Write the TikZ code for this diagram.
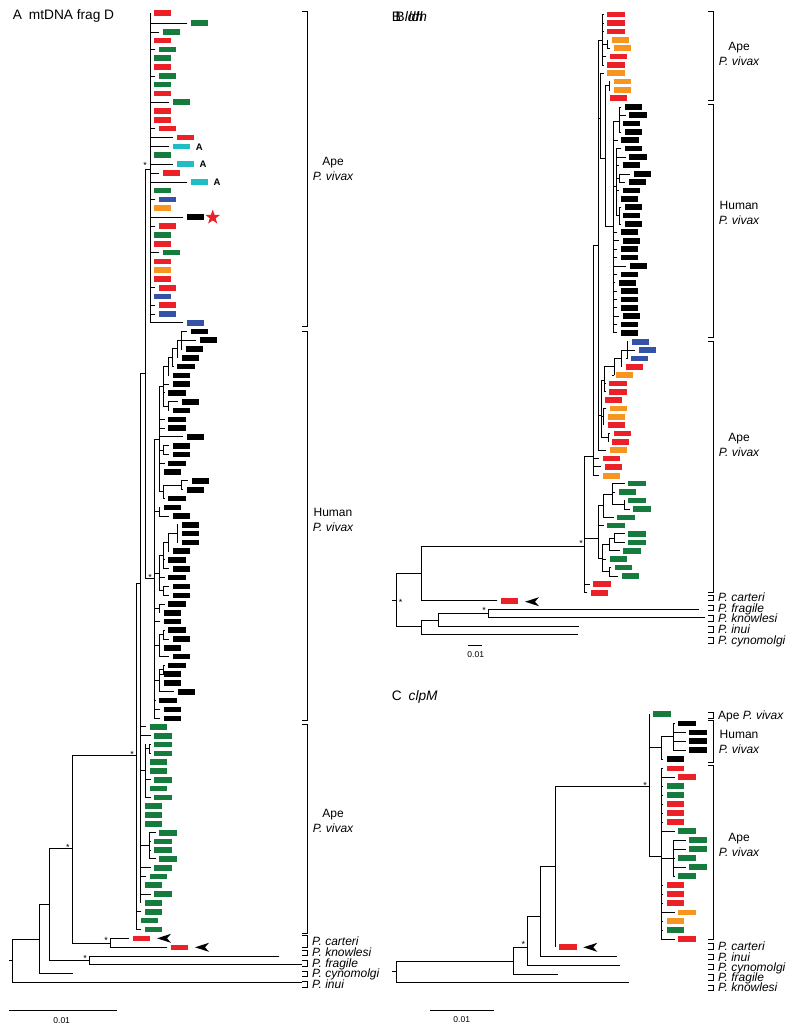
\documentclass[tikz,border=0pt]{standalone}
\usepackage{fontspec}
\setmainfont{Liberation Sans}
\usetikzlibrary{shapes.geometric}
\definecolor{cR}{RGB}{236,32,39}
\definecolor{cG}{RGB}{22,124,62}
\definecolor{cC}{RGB}{32,190,196}
\definecolor{cB}{RGB}{52,82,166}
\definecolor{cO}{RGB}{246,150,32}
\newcommand\tleaf[4]{\draw[br] (#1,#2) -- ({#3-4},#2);\fill[fill=#4] (#3,{#2-2.8}) rectangle ({#3+17.4},{#2+2.8});}
\newcommand\tvert[3]{\draw[br] (#1,#2) -- (#1,#3);}
\newcommand\thor[3]{\draw[br] (#1,#3) -- (#2,#3);}
\newcommand\tbrk[3]{\draw[br] ({#1-5},#2) -- (#1,#2) -- (#1,#3) -- ({#1-5},#3);}
\newcommand\tarr[2]{\fill (#1,#2) -- ({#1+14},{#2-4.5}) -- ({#1+10},#2) -- ({#1+14},{#2+4.5}) -- cycle;}
\begin{document}
\begin{tikzpicture}[x=1pt,y=-1pt,
 br/.style={line width=0.95pt,line cap=rect},
 ttl/.style={font=\fontsize{13.7}{16}\selectfont,anchor=base west,inner sep=0},
 grp/.style={font=\fontsize{12}{14}\selectfont,anchor=base,inner sep=0},
 sp/.style={font=\fontsize{12}{14}\selectfont\itshape,anchor=base west,inner sep=0},
 ast/.style={font=\fontsize{9}{9}\selectfont,anchor=base,inner sep=0},
 scl/.style={font=\fontsize{8.5}{9}\selectfont,anchor=base,inner sep=0},
 albl/.style={font=\fontsize{9.5}{10}\selectfont\bfseries,anchor=base west,inner sep=0}]
\fill[white] (0,0) rectangle (800,1032);
\useasboundingbox (0,0) rectangle (800,1032);

% ================= PANEL A =================
\node[ttl] (tA) at (12.7,19.9) {A\hspace{0.5em}mtDNA frag D};
% verticals
\foreach \x/\a/\b in {150/13.3/322.7,145/169/578,140.7/373/902.7,136/583/929.3,
 181.7/331.3/349,177.3/340/357.7,172.7/348.8/366.3,168.3/357.6/375.3,168.3/401.7/410.3,
 163.3/366.5/406,163.3/445.7/454.3,181.7/480.7/489.7,163.3/485.2/498.3,159.3/386/491.7,
 159.3/507.3/516,177.3/524.7/542.3,168.3/533.5/551,163.3/542/568.7,163.3/586.3/595.3,
 159.3/555/590.8,159.3/604/612.7,163.3/630.2/639,159.3/634.6/656.5,163.3/665.3/674,
 159.3/669.6/691.7,154.3/439/718.3,145.7/744.3/797.3,149.3/744.3/753.3,149.3/832.7/858.7,
 12.3/939.3/982.7,39.3/904.3/973.3,49.3/848.3/960,72.3/755.7/943.3,110/938.3/947.3,89.3/956/964.3}
 {\tvert{\x}{\a}{\b}}
% horizontals
\foreach \a/\b/\y in {145/150/169,145/154.3/578,140.7/145/373,136/140.7/583,72.3/136/755.7,
 49.3/72.3/848.3,39.3/49.3/904.3,12.3/39.3/939.3,9.3/12.3/960,12.3/301.7/982.7,39.3/72.3/973.3,
 49.3/89.3/960,72.3/110/943.3,89.3/279/956,89.3/301.7/964.3,
 177.3/181.7/340,172.7/177.3/348.8,168.3/172.7/357.6,163.3/168.3/366.5,163.3/168.3/406,
 159.3/163.3/386,159.3/163.3/450,163.3/181.7/485.2,159.3/163.3/491.7,154.3/159.3/439,
 154.3/159.3/511.6,168.3/177.3/533.5,163.3/168.3/542,159.3/163.3/555,159.3/163.3/590.8,
 154.3/159.3/573,154.3/159.3/608,159.3/163.3/634.6,154.3/159.3/645.5,159.3/163.3/669.6,
 154.3/159.3/680,140.7/145.7/770.7,145.7/149.3/748.8,140.7/149.3/845.7}
 {\thor{\a}{\b}{\y}}
% leaves (ape, top)
\foreach \p/\y/\bx/\cc in {150/13.3/154/cR,150/23.3/191/cG,150/32/163/cG,150/40.7/154/cR,
 150/49.7/159/cG,150/58.3/154/cG,150/67.3/154/cR,150/76/159/cG,150/84.7/154/cG,150/93.7/154/cR,
 150/102.3/173/cG,150/111/154/cR,150/120/154/cR,150/128.7/159/cR,150/137.7/177/cR,
 150/146.7/173/cC,150/155.3/154/cG,150/164.3/177/cC,150/173/163/cR,150/182/191/cC,
 150/190.7/154/cG,150/199.7/159/cB,150/208.3/154/cO,150/217.3/187/black,150/226/159/cR,
 150/235/154/cG,150/243.7/154/cR,150/252.3/163/cG,150/261.3/154/cR,150/270/154/cO,
 150/278.7/154/cR,150/287.7/159/cR,150/296.3/154/cB,150/305/159/cR,150/314/159/cB,
 150/322.7/187/cB}
 {\tleaf{\p}{\y}{\bx}{\cc}}
% leaves (human)
\foreach \p/\y/\bx in {181.7/331.3/190.7,181.7/340/199.7,181.7/349/186,177.3/357.7/181.7,
 172.7/366.3/177.3,168.3/375.3/172.7,163.3/384/172.7,163.3/392.7/168.3,168.3/401.7/181.7,
 168.3/410.3/172.7,159.3/419.3/168.3,159.3/428/168.3,159.3/436.7/186.7,163.3/445.7/172.7,
 163.3/454.3/172.7,159.3/463.3/168.3,159.3/472/164,181.7/480.7/191.7,181.7/489.7/186.7,
 163.3/498.3/168.3,159.3/507.3/164,159.3/516/172.7,177.3/524.7/181.7,177.3/533.3/181.7,
 177.3/542.3/181.7,168.3/551/172.7,163.3/559.7/168.3,163.3/568.7/172.7,159.3/577.3/168.3,
 163.3/586.3/172.7,163.3/595.3/172.7,159.3/604/168.3,159.3/612.7/164,154.3/621.5/164,
 163.3/630.2/168.3,163.3/639/172.7,159.3/647.7/164,159.3/656.5/172.7,163.3/665.3/168.3,
 163.3/674/164,159.3/683/164,159.3/691.7/177.5,154.3/700.5/159.3,154.3/709.3/164,154.3/718.3/164}
 {\tleaf{\p}{\y}{\bx}{black}}
% leaves (ape, lower)
\foreach \p/\y/\bx in {140.7/726.7/150,140.7/735.7/154.3,149.3/744.3/154.3,149.3/753.3/154.3,
 145.7/762/150,145.7/770.7/150,145.7/779.7/154.3,145.7/788.3/150,145.7/797.3/154.3,
 140.7/806/145,140.7/815/145,140.7/823.7/145,149.3/832.7/159.3,149.3/841.3/154.3,
 149.3/850/154.3,149.3/858.7/159.3,140.7/867.7/154.3,140.7/876.3/150,140.7/885/145,
 140.7/894/154.3,140.7/902.7/145,136/911.7/145,136/920.3/140.7,136/929.3/145}
 {\tleaf{\p}{\y}{\bx}{cG}}
\tleaf{110}{938.3}{133}{cR}
\tleaf{110}{947.3}{171}{cR}
\tarr{157}{938.3}
\tarr{195}{947.3}
\node[star,star points=5,star point ratio=2.5,fill=cR,minimum size=15.5pt,inner sep=0] (starA) at (212.7,217.3) {};
\node[albl] (a1) at (195.7,150.3) {A};
\node[albl] (a2) at (199.3,167.9) {A};
\node[albl] (a3) at (213.3,185.6) {A};
\foreach \x/\y [count=\i] in {145/163.3,150/575,132/752,68/845,106/938.3,85/956}
 {\node[ast] (astA\i) at (\x,{\y+5.2}) {*};}
% brackets A
\tbrk{307.7}{11}{326}
\tbrk{307.7}{331}{720}
\tbrk{307.7}{724}{933}
\tbrk{307.7}{935}{947}
\tbrk{307.7}{950}{955}
\tbrk{307.7}{960.5}{966}
\tbrk{307.7}{971}{976.5}
\tbrk{307.7}{981.5}{987}
\node[grp] (gA1) at (333,165.5) {Ape};
\node[grp] (gA2) at (333,180.5) {\itshape P. vivax};
\node[grp] (gA3) at (333,516) {Human};
\node[grp] (gA4) at (333,531) {\itshape P. vivax};
\node[grp] (gA5) at (333,817.5) {Ape};
\node[grp] (gA6) at (333,832.5) {\itshape P. vivax};
\node[sp] (sA1) at (312,945.3) {P. carteri};
\node[sp] (sA2) at (312,956.3) {P. knowlesi};
\node[sp] (sA3) at (312,967.3) {P. fragile};
\node[sp] (sA4) at (312,977.8) {P. cynomolgi};
\node[sp] (sA5) at (312,988.3) {P. inui};
\draw[br] (9.3,1010.7) -- (116.7,1010.7);
\node[scl] (scA) at (61.7,1023) {0.01};

% ================= PANEL B =================
\node[ttl] (tB) at (391.7,21.6) {\rlap{B \textit{ldh}}\hspace{3.8pt}B \textit{ldh}};
\foreach \x/\a/\b in {602.7/14.7/65,607/40/48.3,609/81.7/90,605/85.8/226.7,600.7/73.3/158,
 598.3/40/450,613.3/121.7/332.7,619.3/107/132,616/148.7/215.7,619.3/174/182.3,619.3/207.3/224,
 627/341.7/358.3,621/350/366.7,614/358/375,604/366/391.7,603.7/408.3/425,608/433.3/441.7,
 601/380/437.5,593.3/245/475.7,624/500.3/509,612.3/483.3/504.7,603/494/517.3,614/533.7/542.3,
 609.3/538/550.7,609.3/567.3/576,602.7/544/571.7,598.3/505/558,584/456/591.7,
 421.7/546/600.7,396/573.3/626,421.7/620/634,438.3/613.3/626,488.3/609.3/617.3}
 {\tvert{\x}{\a}{\b}}
\foreach \a/\b/\y in {602.7/607/44.2,605/609/85.8,600.7/605/158,605/613.3/226.7,598.3/602.7/40,
 598.3/600.7/118,613.3/619.3/121.7,613.3/616/186,616/619.3/178,616/619.3/215.7,621/627/350,
 614/621/358,604/614/366,601/604/380,601/603.7/416.7,601/608/437.5,598.3/601/415,
 593.3/598.3/245,584/593.3/456,612.3/624/504.7,603/612.3/494,598.3/603/505,609.3/614/538,
 602.7/609.3/544,602.7/609.3/571.7,598.3/602.7/558,584/598.3/538.3,421.7/584/546,
 396/421.7/573.3,392.7/396/600,396/421.7/626,421.7/438.3/620,421.7/577.3/634,
 438.3/488.3/613.3,438.3/578.3/626,488.3/698.3/609.3,488.3/705/617.3}
 {\thor{\a}{\b}{\y}}
\foreach \p/\y/\bx/\cc in {602.7/14.7/607.3/cR,602.7/23.3/607.3/cR,602.7/31.7/607.3/cR,
 607/40/611.7/cO,607/48.3/614/cO,602.7/56.7/610/cR,602.7/65/607.3/cR,600.7/73.3/607.3/cO,
 609/81.7/614/cO,609/90/614/cO,605/98.3/610/cR,
 627/341.7/631.7/cB,627/350/639/cB,627/358.3/630.7/cB,621/366.7/626/cR,614/375/616/cO,
 604/383.3/609.3/cR,604/391.7/609.3/cR,601/400/605/cR,603.7/408.3/610/cO,603.7/416.7/607.7/cO,
 603.7/425/607.7/cR,608/433.3/614/cR,608/441.7/612/cR,598.3/450/610/cO,593.3/458.3/602.7/cR,
 593.3/466.7/605/cR,593.3/475.7/602.7/cO,
 612.3/483.3/628.3/cG,612.3/492/619/cG,624/500.3/628.3/cG,624/509/633.3/cG,603/517.3/617.3/cG,
 598.3/525.3/607.3/cG,614/533.7/628.3/cG,614/542.3/628.3/cG,609.3/550.7/623.3/cG,
 602.7/559/610/cG,609.3/567.3/615/cG,609.3/576/621.7/cG,
 584/584/593.3/cR,584/592.7/591/cR,421.7/600.7/501/cR}
 {\tleaf{\p}{\y}{\bx}{\cc}}
\foreach \p/\y/\bx in {619.3/107/625,619.3/115.3/629.3,619.3/123.7/623,619.3/132/625,
 613.3/140.3/621.3,616/148.7/625,616/157/629.3,616/165.3/623,619.3/174/633.7,619.3/182.3/629,
 616/190.7/623,616/199/621,619.3/207.3/625,619.3/215.7/623,619.3/224/625,613.3/232.3/621,
 613.3/240.7/623,613.3/249/621,613.3/257.3/621,613.3/266/629.7,613.3/274.3/621,613.3/282.7/619,
 613.3/291/621,613.3/299.3/621,613.3/307.7/621,613.3/316/623,613.3/324.3/621,613.3/332.7/621}
 {\tleaf{\p}{\y}{\bx}{black}}
\tarr{525}{601.7}
\foreach \x/\y [count=\i] in {581/541.7,400.7/600.7,484/608.3}
 {\node[ast] (astB\i) at (\x,{\y+5.2}) {*};}
\tbrk{713.3}{11.7}{100}
\tbrk{713.3}{104}{337}
\tbrk{713.3}{341}{592}
\tbrk{713.3}{595}{600}
\tbrk{713.3}{605}{610.5}
\tbrk{713.3}{615.5}{621}
\tbrk{713.3}{626}{632}
\tbrk{713.3}{637}{643}
\node[grp] (gB1) at (739,51) {Ape};
\node[grp] (gB2) at (739,66) {\itshape P. vivax};
\node[grp] (gB3) at (739,210) {Human};
\node[grp] (gB4) at (739,225) {\itshape P. vivax};
\node[grp] (gB5) at (739,441.5) {Ape};
\node[grp] (gB6) at (739,456.5) {\itshape P. vivax};
\node[sp] (sB1) at (718,601.3) {P. carteri};
\node[sp] (sB2) at (718,612) {P. fragile};
\node[sp] (sB3) at (718,622.3) {P. knowlesi};
\node[sp] (sB4) at (718,633.3) {P. inui};
\node[sp] (sB5) at (718,644.3) {P. cynomolgi};
\draw[br] (468.3,645) -- (481.7,645);
\node[scl] (scB) at (475.7,657.3) {0.01};

% ================= PANEL C =================
\node[ttl] (tC) at (391.7,700) {C\hspace{0.5em}\textit{clpM}};
\foreach \x/\a/\b in {673.3/723.3/750,661.7/736/759,673.3/840/876,661.7/768.3/939,649/714/856.7,
 555/786.7/946.7,540/866.7/956,527.7/916.7/965,513.3/947.3/974,396/961.7/982.7}
 {\tvert{\x}{\a}{\b}}
\foreach \a/\b/\y in {661.7/673.3/736,649/661.7/747.3,661.7/673.3/858,649/661.7/856.7,
 555/649/786.7,540/555/866.7,540/616.7/956,527.7/540/916.7,527.7/620/965,513.3/527.7/947.3,
 513.3/557.7/974,396/513.3/961.7,396/628.3/982.7,392.7/396/971.7}
 {\thor{\a}{\b}{\y}}
\foreach \p/\y/\bx/\cc in {649/714/653.3/cG,673.3/723.3/678.3/black,673.3/732.3/689.3/black,
 673.3/741/689.3/black,673.3/750/689.3/black,661.7/759/666.7/black,661.7/768.3/666.7/cR,
 661.7/777/678.3/cR,661.7/786/666.7/cG,661.7/795/666.7/cG,661.7/804/666.7/cR,661.7/813/666.7/cR,
 661.7/822/666.7/cR,661.7/831/678.3/cG,673.3/840/689.3/cG,673.3/849/689.3/cG,673.3/858/678.3/cG,
 673.3/867/689.3/cG,673.3/876/678.3/cG,661.7/885/666.7/cR,661.7/894/666.7/cR,661.7/903/666.7/cR,
 661.7/912.3/678.3/cO,661.7/921/666.7/cO,661.7/930/666.7/cG,661.7/939/678.3/cR,555/946.7/559.3/cR}
 {\tleaf{\p}{\y}{\bx}{\cc}}
\tarr{583.3}{947.3}
\foreach \x/\y [count=\i] in {645/783.3,523.3/942.3}
 {\node[ast] (astC\i) at (\x,{\y+5.2}) {*};}
\tbrk{713.3}{712}{718}
\tbrk{713.3}{720}{762}
\tbrk{713.3}{765}{939.5}
\tbrk{713.3}{943}{949}
\tbrk{713.3}{954}{959.5}
\tbrk{713.3}{964}{969.5}
\tbrk{713.3}{974.5}{980}
\tbrk{713.3}{985}{990.5}
\node[sp,font=\fontsize{12}{14}\selectfont] (gC0) at (718,719.3) {Ape \textit{P. vivax}};
\node[grp] (gC1) at (739,738.5) {Human};
\node[grp] (gC2) at (739,753.5) {\itshape P. vivax};
\node[grp] (gC3) at (739,841) {Ape};
\node[grp] (gC4) at (739,856) {\itshape P. vivax};
\node[sp] (sC1) at (718,950.3) {P. carteri};
\node[sp] (sC2) at (718,961) {P. inui};
\node[sp] (sC3) at (718,971) {P. cynomolgi};
\node[sp] (sC4) at (718,981.3) {P. fragile};
\node[sp] (sC5) at (718,991.8) {P. knowlesi};
\draw[br] (430,1010) -- (493.3,1010);
\node[scl] (scC) at (461.7,1022.3) {0.01};
\end{tikzpicture}
\end{document}
